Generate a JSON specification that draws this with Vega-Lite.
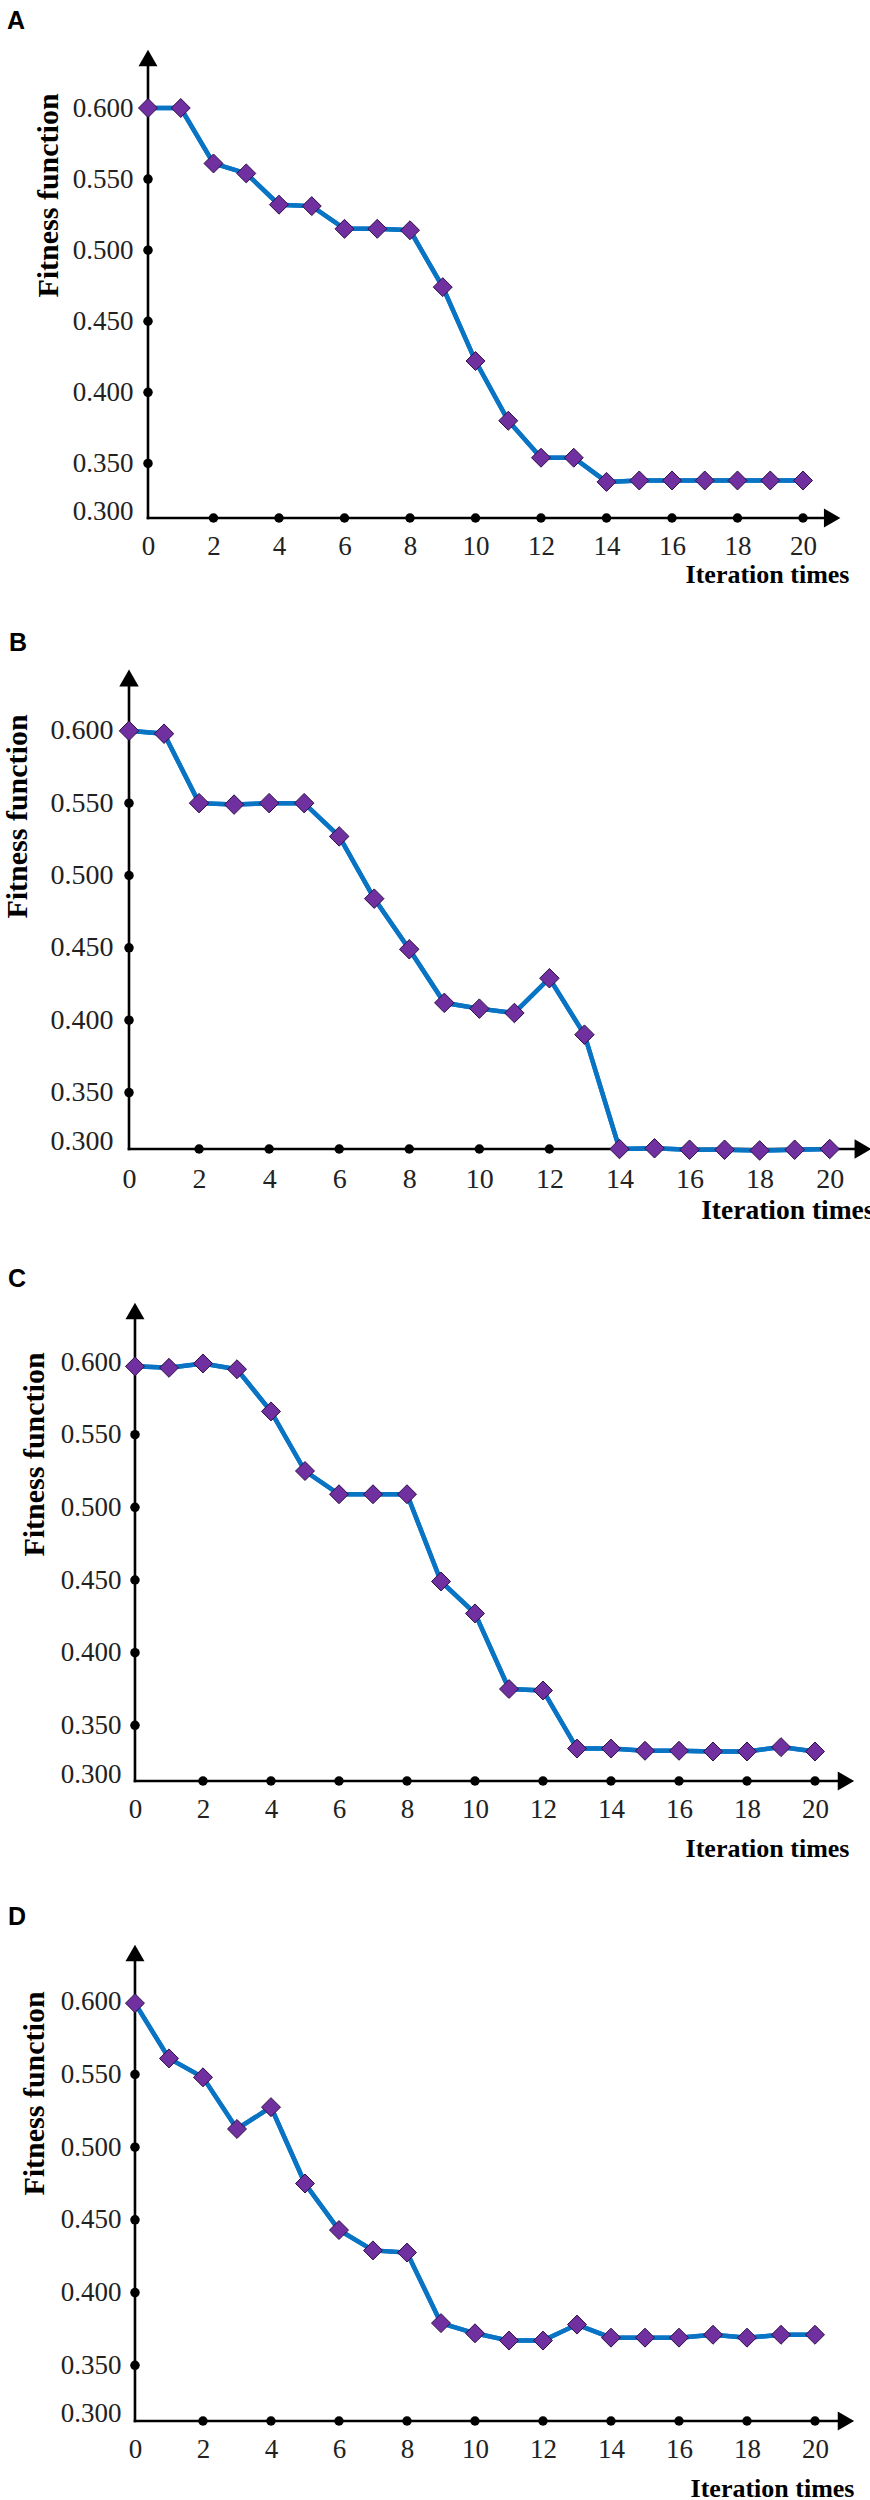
{
  "$schema": "https://vega.github.io/schema/vega-lite/v6.json",
  "padding": {"left": 2, "top": 8, "right": 0, "bottom": 0},
  "background": "white",
  "spacing": 43,
  "config": {"view": {"stroke": null}, "axis": {"grid": false}},
  "datasets": {
    "A": [
      {"iteration": 0, "fitness": 0.600}, {"iteration": 1, "fitness": 0.600}, {"iteration": 2, "fitness": 0.561},
      {"iteration": 3, "fitness": 0.554}, {"iteration": 4, "fitness": 0.532}, {"iteration": 5, "fitness": 0.531},
      {"iteration": 6, "fitness": 0.515}, {"iteration": 7, "fitness": 0.515}, {"iteration": 8, "fitness": 0.514},
      {"iteration": 9, "fitness": 0.474}, {"iteration": 10, "fitness": 0.422}, {"iteration": 11, "fitness": 0.380},
      {"iteration": 12, "fitness": 0.354}, {"iteration": 13, "fitness": 0.354}, {"iteration": 14, "fitness": 0.337},
      {"iteration": 15, "fitness": 0.338}, {"iteration": 16, "fitness": 0.338}, {"iteration": 17, "fitness": 0.338},
      {"iteration": 18, "fitness": 0.338}, {"iteration": 19, "fitness": 0.338}, {"iteration": 20, "fitness": 0.338}
    ],
    "B": [
      {"iteration": 0, "fitness": 0.600}, {"iteration": 1, "fitness": 0.598}, {"iteration": 2, "fitness": 0.550},
      {"iteration": 3, "fitness": 0.549}, {"iteration": 4, "fitness": 0.550}, {"iteration": 5, "fitness": 0.550},
      {"iteration": 6, "fitness": 0.527}, {"iteration": 7, "fitness": 0.484}, {"iteration": 8, "fitness": 0.449},
      {"iteration": 9, "fitness": 0.412}, {"iteration": 10, "fitness": 0.408}, {"iteration": 11, "fitness": 0.405},
      {"iteration": 12, "fitness": 0.429}, {"iteration": 13, "fitness": 0.390}, {"iteration": 14, "fitness": 0.311},
      {"iteration": 15, "fitness": 0.3115}, {"iteration": 16, "fitness": 0.3105}, {"iteration": 17, "fitness": 0.3105},
      {"iteration": 18, "fitness": 0.310}, {"iteration": 19, "fitness": 0.3105}, {"iteration": 20, "fitness": 0.311}
    ],
    "C": [
      {"iteration": 0, "fitness": 0.597}, {"iteration": 1, "fitness": 0.596}, {"iteration": 2, "fitness": 0.599},
      {"iteration": 3, "fitness": 0.595}, {"iteration": 4, "fitness": 0.566}, {"iteration": 5, "fitness": 0.525},
      {"iteration": 6, "fitness": 0.509}, {"iteration": 7, "fitness": 0.509}, {"iteration": 8, "fitness": 0.509},
      {"iteration": 9, "fitness": 0.449}, {"iteration": 10, "fitness": 0.427}, {"iteration": 11, "fitness": 0.375},
      {"iteration": 12, "fitness": 0.374}, {"iteration": 13, "fitness": 0.334}, {"iteration": 14, "fitness": 0.334},
      {"iteration": 15, "fitness": 0.3325}, {"iteration": 16, "fitness": 0.3325}, {"iteration": 17, "fitness": 0.332},
      {"iteration": 18, "fitness": 0.332}, {"iteration": 19, "fitness": 0.335}, {"iteration": 20, "fitness": 0.332}
    ],
    "D": [
      {"iteration": 0, "fitness": 0.599}, {"iteration": 1, "fitness": 0.561}, {"iteration": 2, "fitness": 0.548},
      {"iteration": 3, "fitness": 0.5125}, {"iteration": 4, "fitness": 0.5275}, {"iteration": 5, "fitness": 0.475},
      {"iteration": 6, "fitness": 0.443}, {"iteration": 7, "fitness": 0.429}, {"iteration": 8, "fitness": 0.4275},
      {"iteration": 9, "fitness": 0.379}, {"iteration": 10, "fitness": 0.372}, {"iteration": 11, "fitness": 0.367},
      {"iteration": 12, "fitness": 0.367}, {"iteration": 13, "fitness": 0.378}, {"iteration": 14, "fitness": 0.369},
      {"iteration": 15, "fitness": 0.369}, {"iteration": 16, "fitness": 0.369}, {"iteration": 17, "fitness": 0.371},
      {"iteration": 18, "fitness": 0.369}, {"iteration": 19, "fitness": 0.371}, {"iteration": 20, "fitness": 0.371}
    ],
    "xticks": [{"tick": 2}, {"tick": 4}, {"tick": 6}, {"tick": 8}, {"tick": 10}, {"tick": 12}, {"tick": 14}, {"tick": 16}, {"tick": 18}, {"tick": 20}],
    "yticks": [{"tick": 0.35}, {"tick": 0.4}, {"tick": 0.45}, {"tick": 0.5}, {"tick": 0.55}],
    "one": [{}]
  },
  "vconcat": [
    {
      "width": 742, "height": 468,
      "title": {"text": "A", "anchor": "start", "frame": "group", "dx": -122, "offset": -4, "baseline": "alphabetic", "font": "Liberation Sans", "fontSize": 25, "fontWeight": "bold", "color": "#000"},
      "layer": [
        {"data": {"name": "A"}, "mark": {"type": "line", "color": "#0a74c4", "strokeWidth": 4.5},
         "encoding": {
           "x": {"field": "iteration", "type": "quantitative", "scale": {"domain": [-0.58, 22.076], "nice": false, "zero": false},
                 "axis": {"values": [0, 2, 4, 6, 8, 10, 12, 14, 16, 18, 20], "domain": false, "ticks": false, "tickSize": 0, "labelPadding": 28, "labelBaseline": "middle", "labelFlush": false, "labelOverlap": false, "labelFont": "Liberation Serif", "labelFontSize": 27, "labelColor": "#222",
                          "title": "Iteration times", "titleFont": "Liberation Serif", "titleFontSize": 26, "titleFontWeight": "bold", "titleColor": "#000", "titleX": 720, "titleY": 56, "titleAlign": "right", "titleBaseline": "middle"}},
           "y": {"field": "fitness", "type": "quantitative", "scale": {"domain": [0.3116, 0.6408], "nice": false, "zero": false},
                 "axis": {"values": [0.3165, 0.35, 0.4, 0.45, 0.5, 0.55, 0.6], "labelExpr": "datum.value < 0.33 ? '0.300' : format(datum.value, '.3f')", "offset": -19, "domain": false, "ticks": false, "tickSize": 0, "labelPadding": 15, "labelOverlap": false, "labelFlush": false, "labelFont": "Liberation Serif", "labelFontSize": 27, "labelColor": "#222",
                          "title": "Fitness function", "titleFont": "Liberation Serif", "titleFontSize": 30, "titleFontWeight": "bold", "titleColor": "#000", "titleX": -100, "titleY": 145, "titleAngle": -90, "titleAlign": "center", "titleBaseline": "middle"}}}},
        {"data": {"name": "one"}, "mark": {"type": "rule", "color": "#000", "strokeWidth": 2.6, "strokeCap": "square"},
         "encoding": {"x": {"datum": 0, "type": "quantitative"}, "x2": {"datum": 20.89}, "y": {"datum": 0.3116, "type": "quantitative"}}},
        {"data": {"name": "one"}, "mark": {"type": "rule", "color": "#000", "strokeWidth": 2.6, "strokeCap": "square"},
         "encoding": {"x": {"datum": 0, "type": "quantitative"}, "y": {"datum": 0.3116, "type": "quantitative"}, "y2": {"datum": 0.6352}}},
        {"data": {"name": "xticks"}, "mark": {"type": "point", "shape": "circle", "filled": true, "color": "#000", "opacity": 1, "size": 90},
         "encoding": {"x": {"field": "tick", "type": "quantitative"}, "y": {"datum": 0.3116, "type": "quantitative"}}},
        {"data": {"name": "yticks"}, "mark": {"type": "point", "shape": "circle", "filled": true, "color": "#000", "opacity": 1, "size": 90},
         "encoding": {"x": {"datum": 0, "type": "quantitative"}, "y": {"field": "tick", "type": "quantitative"}}},
        {"data": {"name": "A"}, "mark": {"type": "line", "color": "#0a74c4", "strokeWidth": 4.5},
         "encoding": {"x": {"field": "iteration", "type": "quantitative"}, "y": {"field": "fitness", "type": "quantitative"}}},
        {"data": {"name": "A"}, "mark": {"type": "point", "shape": "diamond", "filled": true, "color": "#7030a0", "stroke": "#2d0f45", "strokeWidth": 1, "opacity": 1, "size": 360},
         "encoding": {"x": {"field": "iteration", "type": "quantitative"}, "y": {"field": "fitness", "type": "quantitative"}}},
        {"data": {"name": "one"}, "mark": {"type": "point", "shape": "triangle-right", "filled": true, "color": "#000", "opacity": 1, "size": 360},
         "encoding": {"x": {"datum": 20.89, "type": "quantitative"}, "y": {"datum": 0.3116, "type": "quantitative"}}},
        {"data": {"name": "one"}, "mark": {"type": "point", "shape": "triangle-up", "filled": true, "color": "#000", "opacity": 1, "size": 360},
         "encoding": {"x": {"datum": 0, "type": "quantitative"}, "y": {"datum": 0.6352, "type": "quantitative"}}}
      ]
    },
    {
      "width": 742, "height": 479,
      "title": {"text": "B", "anchor": "start", "frame": "group", "dx": -120, "offset": -6.3, "baseline": "alphabetic", "font": "Liberation Sans", "fontSize": 25, "fontWeight": "bold", "color": "#000"},
      "layer": [
        {"data": {"name": "B"}, "mark": {"type": "line", "color": "#0a74c4", "strokeWidth": 4.5},
         "encoding": {
           "x": {"field": "iteration", "type": "quantitative", "scale": {"domain": [0, 21.179], "nice": false, "zero": false},
                 "axis": {"values": [0, 2, 4, 6, 8, 10, 12, 14, 16, 18, 20], "domain": false, "ticks": false, "tickSize": 0, "labelPadding": 30, "labelBaseline": "middle", "labelFlush": false, "labelOverlap": false, "labelFont": "Liberation Serif", "labelFontSize": 28, "labelColor": "#222",
                          "title": "Iteration times", "titleFont": "Liberation Serif", "titleFontSize": 27.5, "titleFontWeight": "bold", "titleColor": "#000", "titleX": 745, "titleY": 61.5, "titleAlign": "right", "titleBaseline": "middle"}},
           "y": {"field": "fitness", "type": "quantitative", "scale": {"domain": [0.311, 0.642], "nice": false, "zero": false},
                 "axis": {"values": [0.3165, 0.35, 0.4, 0.45, 0.5, 0.55, 0.6], "labelExpr": "datum.value < 0.33 ? '0.300' : format(datum.value, '.3f')", "offset": 0, "domain": false, "ticks": false, "tickSize": 0, "labelPadding": 16, "labelOverlap": false, "labelFlush": false, "labelFont": "Liberation Serif", "labelFontSize": 28, "labelColor": "#222",
                          "title": "Fitness function", "titleFont": "Liberation Serif", "titleFontSize": 30, "titleFontWeight": "bold", "titleColor": "#000", "titleX": -112, "titleY": 146, "titleAngle": -90, "titleAlign": "center", "titleBaseline": "middle"}}}},
        {"data": {"name": "one"}, "mark": {"type": "rule", "color": "#000", "strokeWidth": 2.6, "strokeCap": "square"},
         "encoding": {"x": {"datum": 0, "type": "quantitative"}, "x2": {"datum": 20.95}, "y": {"datum": 0.311, "type": "quantitative"}}},
        {"data": {"name": "one"}, "mark": {"type": "rule", "color": "#000", "strokeWidth": 2.6, "strokeCap": "square"},
         "encoding": {"x": {"datum": 0, "type": "quantitative"}, "y": {"datum": 0.311, "type": "quantitative"}, "y2": {"datum": 0.6365}}},
        {"data": {"name": "xticks"}, "mark": {"type": "point", "shape": "circle", "filled": true, "color": "#000", "opacity": 1, "size": 90},
         "encoding": {"x": {"field": "tick", "type": "quantitative"}, "y": {"datum": 0.311, "type": "quantitative"}}},
        {"data": {"name": "yticks"}, "mark": {"type": "point", "shape": "circle", "filled": true, "color": "#000", "opacity": 1, "size": 90},
         "encoding": {"x": {"datum": 0, "type": "quantitative"}, "y": {"field": "tick", "type": "quantitative"}}},
        {"data": {"name": "B"}, "mark": {"type": "line", "color": "#0a74c4", "strokeWidth": 4.5},
         "encoding": {"x": {"field": "iteration", "type": "quantitative"}, "y": {"field": "fitness", "type": "quantitative"}}},
        {"data": {"name": "B"}, "mark": {"type": "point", "shape": "diamond", "filled": true, "color": "#7030a0", "stroke": "#2d0f45", "strokeWidth": 1, "opacity": 1, "size": 380},
         "encoding": {"x": {"field": "iteration", "type": "quantitative"}, "y": {"field": "fitness", "type": "quantitative"}}},
        {"data": {"name": "one"}, "mark": {"type": "point", "shape": "triangle-right", "filled": true, "color": "#000", "opacity": 1, "size": 380},
         "encoding": {"x": {"datum": 20.95, "type": "quantitative"}, "y": {"datum": 0.311, "type": "quantitative"}}},
        {"data": {"name": "one"}, "mark": {"type": "point", "shape": "triangle-up", "filled": true, "color": "#000", "opacity": 1, "size": 380},
         "encoding": {"x": {"datum": 0, "type": "quantitative"}, "y": {"datum": 0.6365, "type": "quantitative"}}}
      ]
    },
    {
      "width": 742, "height": 478,
      "title": {"text": "C", "anchor": "start", "frame": "group", "dx": -121, "offset": -9.4, "baseline": "alphabetic", "font": "Liberation Sans", "fontSize": 25, "fontWeight": "bold", "color": "#000"},
      "layer": [
        {"data": {"name": "C"}, "mark": {"type": "line", "color": "#0a74c4", "strokeWidth": 4.5},
         "encoding": {
           "x": {"field": "iteration", "type": "quantitative", "scale": {"domain": [-0.176, 21.647], "nice": false, "zero": false},
                 "axis": {"values": [0, 2, 4, 6, 8, 10, 12, 14, 16, 18, 20], "domain": false, "ticks": false, "tickSize": 0, "labelPadding": 28, "labelBaseline": "middle", "labelFlush": false, "labelOverlap": false, "labelFont": "Liberation Serif", "labelFontSize": 27, "labelColor": "#222",
                          "title": "Iteration times", "titleFont": "Liberation Serif", "titleFontSize": 26, "titleFontWeight": "bold", "titleColor": "#000", "titleX": 720, "titleY": 67, "titleAlign": "right", "titleBaseline": "middle"}},
           "y": {"field": "fitness", "type": "quantitative", "scale": {"domain": [0.3117, 0.6406], "nice": false, "zero": false},
                 "axis": {"values": [0.3165, 0.35, 0.4, 0.45, 0.5, 0.55, 0.6], "labelExpr": "datum.value < 0.33 ? '0.300' : format(datum.value, '.3f')", "offset": -6, "domain": false, "ticks": false, "tickSize": 0, "labelPadding": 14, "labelOverlap": false, "labelFlush": false, "labelFont": "Liberation Serif", "labelFontSize": 27, "labelColor": "#222",
                          "title": "Fitness function", "titleFont": "Liberation Serif", "titleFontSize": 30, "titleFontWeight": "bold", "titleColor": "#000", "titleX": -101, "titleY": 151, "titleAngle": -90, "titleAlign": "center", "titleBaseline": "middle"}}}},
        {"data": {"name": "one"}, "mark": {"type": "rule", "color": "#000", "strokeWidth": 2.6, "strokeCap": "square"},
         "encoding": {"x": {"datum": 0, "type": "quantitative"}, "x2": {"datum": 20.91}, "y": {"datum": 0.3117, "type": "quantitative"}}},
        {"data": {"name": "one"}, "mark": {"type": "rule", "color": "#000", "strokeWidth": 2.6, "strokeCap": "square"},
         "encoding": {"x": {"datum": 0, "type": "quantitative"}, "y": {"datum": 0.3117, "type": "quantitative"}, "y2": {"datum": 0.6351}}},
        {"data": {"name": "xticks"}, "mark": {"type": "point", "shape": "circle", "filled": true, "color": "#000", "opacity": 1, "size": 90},
         "encoding": {"x": {"field": "tick", "type": "quantitative"}, "y": {"datum": 0.3117, "type": "quantitative"}}},
        {"data": {"name": "yticks"}, "mark": {"type": "point", "shape": "circle", "filled": true, "color": "#000", "opacity": 1, "size": 90},
         "encoding": {"x": {"datum": 0, "type": "quantitative"}, "y": {"field": "tick", "type": "quantitative"}}},
        {"data": {"name": "C"}, "mark": {"type": "line", "color": "#0a74c4", "strokeWidth": 4.5},
         "encoding": {"x": {"field": "iteration", "type": "quantitative"}, "y": {"field": "fitness", "type": "quantitative"}}},
        {"data": {"name": "C"}, "mark": {"type": "point", "shape": "diamond", "filled": true, "color": "#7030a0", "stroke": "#2d0f45", "strokeWidth": 1, "opacity": 1, "size": 360},
         "encoding": {"x": {"field": "iteration", "type": "quantitative"}, "y": {"field": "fitness", "type": "quantitative"}}},
        {"data": {"name": "one"}, "mark": {"type": "point", "shape": "triangle-right", "filled": true, "color": "#000", "opacity": 1, "size": 360},
         "encoding": {"x": {"datum": 20.91, "type": "quantitative"}, "y": {"datum": 0.3117, "type": "quantitative"}}},
        {"data": {"name": "one"}, "mark": {"type": "point", "shape": "triangle-up", "filled": true, "color": "#000", "opacity": 1, "size": 360},
         "encoding": {"x": {"datum": 0, "type": "quantitative"}, "y": {"datum": 0.6351, "type": "quantitative"}}}
      ]
    },
    {
      "width": 742, "height": 476,
      "title": {"text": "D", "anchor": "start", "frame": "group", "dx": -121, "offset": -5, "baseline": "alphabetic", "font": "Liberation Sans", "fontSize": 25, "fontWeight": "bold", "color": "#000"},
      "layer": [
        {"data": {"name": "D"}, "mark": {"type": "line", "color": "#0a74c4", "strokeWidth": 4.5},
         "encoding": {
           "x": {"field": "iteration", "type": "quantitative", "scale": {"domain": [-0.176, 21.647], "nice": false, "zero": false},
                 "axis": {"values": [0, 2, 4, 6, 8, 10, 12, 14, 16, 18, 20], "domain": false, "ticks": false, "tickSize": 0, "labelPadding": 28, "labelBaseline": "middle", "labelFlush": false, "labelOverlap": false, "labelFont": "Liberation Serif", "labelFontSize": 27, "labelColor": "#222",
                          "title": "Iteration times", "titleFont": "Liberation Serif", "titleFontSize": 26, "titleFontWeight": "bold", "titleColor": "#000", "titleX": 725, "titleY": 67, "titleAlign": "right", "titleBaseline": "middle"}},
           "y": {"field": "fitness", "type": "quantitative", "scale": {"domain": [0.3117, 0.639], "nice": false, "zero": false},
                 "axis": {"values": [0.317, 0.35, 0.4, 0.45, 0.5, 0.55, 0.6], "labelExpr": "datum.value < 0.33 ? '0.300' : format(datum.value, '.3f')", "offset": -6, "domain": false, "ticks": false, "tickSize": 0, "labelPadding": 14, "labelOverlap": false, "labelFlush": false, "labelFont": "Liberation Serif", "labelFontSize": 27, "labelColor": "#222",
                          "title": "Fitness function", "titleFont": "Liberation Serif", "titleFontSize": 30, "titleFontWeight": "bold", "titleColor": "#000", "titleX": -101, "titleY": 148, "titleAngle": -90, "titleAlign": "center", "titleBaseline": "middle"}}}},
        {"data": {"name": "one"}, "mark": {"type": "rule", "color": "#000", "strokeWidth": 2.6, "strokeCap": "square"},
         "encoding": {"x": {"datum": 0, "type": "quantitative"}, "x2": {"datum": 20.91}, "y": {"datum": 0.3117, "type": "quantitative"}}},
        {"data": {"name": "one"}, "mark": {"type": "rule", "color": "#000", "strokeWidth": 2.6, "strokeCap": "square"},
         "encoding": {"x": {"datum": 0, "type": "quantitative"}, "y": {"datum": 0.3117, "type": "quantitative"}, "y2": {"datum": 0.6335}}},
        {"data": {"name": "xticks"}, "mark": {"type": "point", "shape": "circle", "filled": true, "color": "#000", "opacity": 1, "size": 90},
         "encoding": {"x": {"field": "tick", "type": "quantitative"}, "y": {"datum": 0.3117, "type": "quantitative"}}},
        {"data": {"name": "yticks"}, "mark": {"type": "point", "shape": "circle", "filled": true, "color": "#000", "opacity": 1, "size": 90},
         "encoding": {"x": {"datum": 0, "type": "quantitative"}, "y": {"field": "tick", "type": "quantitative"}}},
        {"data": {"name": "D"}, "mark": {"type": "line", "color": "#0a74c4", "strokeWidth": 4.5},
         "encoding": {"x": {"field": "iteration", "type": "quantitative"}, "y": {"field": "fitness", "type": "quantitative"}}},
        {"data": {"name": "D"}, "mark": {"type": "point", "shape": "diamond", "filled": true, "color": "#7030a0", "stroke": "#2d0f45", "strokeWidth": 1, "opacity": 1, "size": 360},
         "encoding": {"x": {"field": "iteration", "type": "quantitative"}, "y": {"field": "fitness", "type": "quantitative"}}},
        {"data": {"name": "one"}, "mark": {"type": "point", "shape": "triangle-right", "filled": true, "color": "#000", "opacity": 1, "size": 360},
         "encoding": {"x": {"datum": 20.91, "type": "quantitative"}, "y": {"datum": 0.3117, "type": "quantitative"}}},
        {"data": {"name": "one"}, "mark": {"type": "point", "shape": "triangle-up", "filled": true, "color": "#000", "opacity": 1, "size": 360},
         "encoding": {"x": {"datum": 0, "type": "quantitative"}, "y": {"datum": 0.6335, "type": "quantitative"}}}
      ]
    }
  ]
}
